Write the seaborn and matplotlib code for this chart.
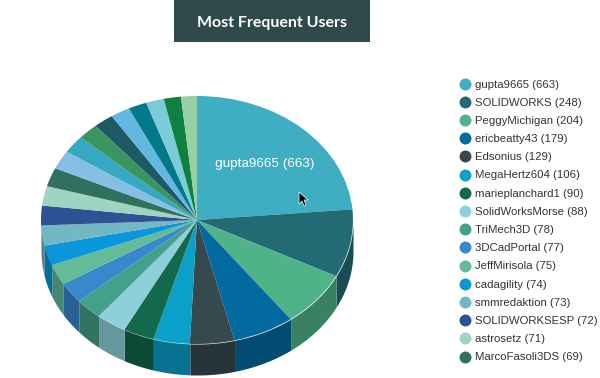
import numpy as np
import matplotlib
matplotlib.use("Agg")
import matplotlib.pyplot as plt
import seaborn as sns
from matplotlib.lines import Line2D
from matplotlib.patches import Polygon, Rectangle

users = ["gupta9665", "SOLIDWORKS", "PeggyMichigan", "ericbeatty43", "Edsonius",
         "MegaHertz604", "marieplanchard1", "SolidWorksMorse", "TriMech3D", "3DCadPortal",
         "JeffMirisola", "cadagility", "smmredaktion", "SOLIDWORKSESP", "astrosetz",
         "MarcoFasoli3DS"]
user_counts = [663, 248, 204, 179, 129, 106, 90, 88, 78, 77, 75, 74, 73, 72, 71, 69]
# slices past the end of the legend, sizes estimated from the wedges
other_counts = [68, 65, 60, 58, 56, 54, 52, 50, 46]

slice_colors = ["#3fadc2", "#246a75", "#4fb389", "#036a9f", "#36494e", "#0ba0c8", "#14684c",
                "#8dd0db", "#44a08a", "#3888cc", "#63bb98", "#0a96db", "#72b8c2", "#2f5296",
                "#9dd5c2", "#31705f", "#85c0e4", "#35a8c2", "#3a9660", "#1e5a66", "#62b8e0",
                "#007a8a", "#7accd8", "#0f8040", "#96cfa8"]

sns.set_theme(style="white")
plt.rcParams["font.family"] = ["Liberation Sans", "DejaVu Sans"]

W, H = 600, 378
RX, RY, DEPTH = 156, 124, 31
CX, CY = 197, 220

fig = plt.figure(figsize=(W / 100, H / 100), dpi=100)

# axes sized so the unit pie lands on the tilted ellipse
ax = fig.add_axes([(CX - RX) / W, (H - CY - RY - DEPTH) / H, 2 * RX / W, (2 * RY + DEPTH) / H])
values = np.array(user_counts + other_counts, dtype=float)
palette = sns.color_palette(slice_colors)

ax.pie(values, colors=palette, startangle=90, counterclock=False, radius=1, frame=True,
       wedgeprops={"linewidth": 0, "antialiased": True})
ax.set_aspect("auto")
ax.set_xlim(-1, 1)
ax.set_ylim(-1 - DEPTH / RY, 1)
ax.axis("off")

# side wall of the pie, only the front half (-180..0 deg) shows
edges = 90 - np.cumsum(np.r_[0, values]) / values.sum() * 360
for i, color in enumerate(palette):
    lo, hi = max(edges[i + 1], -180), min(edges[i], 0)
    if lo >= hi:
        continue
    t = np.radians(np.linspace(lo, hi, 40))
    side = tuple(c * 0.72 for c in color)
    ax.fill_between(np.cos(t), np.sin(t), np.sin(t) - DEPTH / RY, color=side, lw=0, zorder=0)

# overlay in pixel coords for the header, label and cursor
over = fig.add_axes([0, 0, 1, 1])
over.set_xlim(0, W)
over.set_ylim(H, 0)
over.axis("off")
over.patch.set_alpha(0)
over.add_patch(Rectangle((174, 0), 196, 42, color="#2f4a4a", lw=0))
over.text(272, 23, "Most Frequent Users", color="white", ha="center", va="center",
          fontsize=11.5, fontweight="bold", family="Lato")
over.text(264.5, 164, "gupta9665 (663)", color="white", ha="center", va="center", fontsize=9.7)
over.add_patch(Polygon([(299, 192), (299, 204), (302, 201), (304, 206), (306, 205),
                        (304, 200), (308, 200)], closed=True, fc="black", ec="white", lw=0.5))

handles = [Line2D([], [], ls="", marker="o", ms=8.6, mfc=c, mec="none") for c in palette[:16]]
labels = [f"{u} ({n})" for u, n in zip(users, user_counts)]
fig.legend(handles, labels, loc="upper left", bbox_to_anchor=(453.6 / W, 1 - 79.5 / H),
           frameon=False, fontsize=8.2, labelcolor="#333333", labelspacing=0.72,
           handletextpad=-0.1, borderpad=0, borderaxespad=0)

fig.savefig("out.png", dpi=100)
